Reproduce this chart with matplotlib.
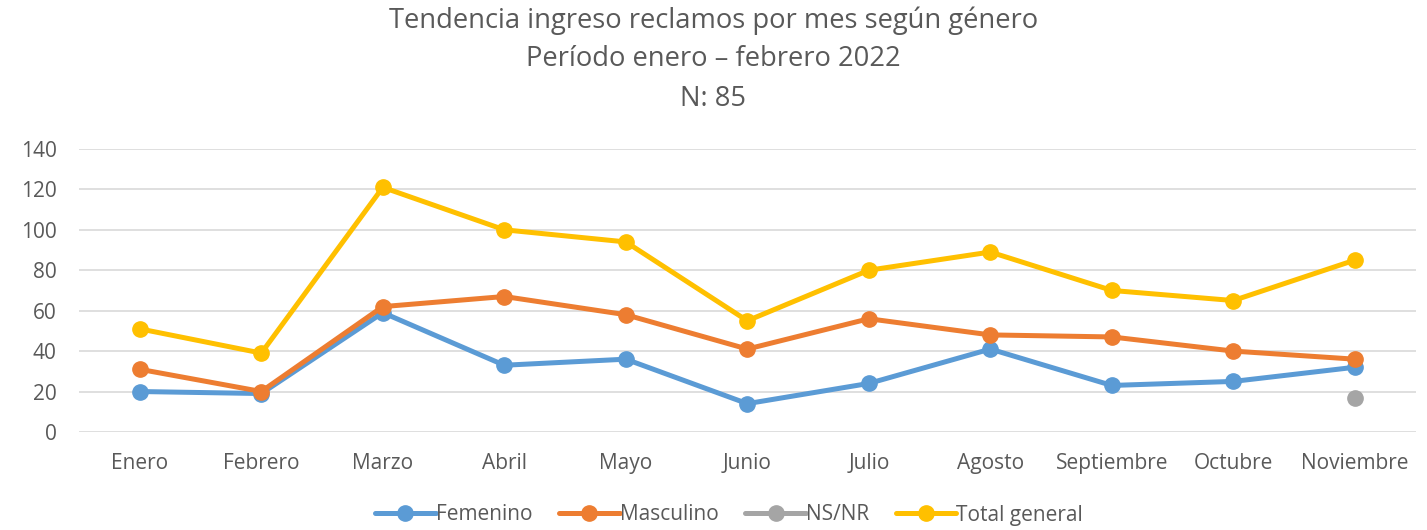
import numpy as np
import matplotlib
matplotlib.use("Agg")
import matplotlib.pyplot as plt

months = ["Enero", "Febrero", "Marzo", "Abril", "Mayo", "Junio", "Julio",
          "Agosto", "Septiembre", "Octubre", "Noviembre"]
femenino = [20, 19, 59, 33, 36, 14, 24, 41, 23, 25, 32]
masculino = [31, 20, 62, 67, 58, 41, 56, 48, 47, 40, 36]
nsnr = [np.nan, np.nan, np.nan, np.nan, np.nan, np.nan, np.nan, np.nan, np.nan, np.nan, 17]
total = [51, 39, 121, 100, 94, 55, 80, 89, 70, 65, 85]
yticks = [0, 20, 40, 60, 80, 100, 120, 140]

series = [("Femenino", femenino, "#5B9BD5"),
          ("Masculino", masculino, "#ED7D31"),
          ("NS/NR", nsnr, "#A5A5A5"),
          ("Total general", total, "#FFC000")]

plt.rcParams['font.family'] = ['Open Sans', 'DejaVu Sans']
txt = "#595959"

fig = plt.figure(figsize=(14.27, 5.30), dpi=100)
ax = fig.add_axes([0.0554, 0.185, 0.9366, 0.534])

x = np.arange(len(months))
for name, vals, col in series:
    ax.plot(x, vals, color=col, lw=3.6, marker="o", ms=11, label=name,
            solid_capstyle="round", solid_joinstyle="round")

ax.set_xlim(-0.5, len(months) - 0.5)
ax.set_ylim(0, 140)
ax.set_yticks(yticks)
ax.set_xticks(x)
ax.set_xticklabels(months)
ax.grid(axis="y", color="#D9D9D9", lw=1.2)
ax.set_axisbelow(True)
for s in ax.spines.values():
    s.set_visible(False)
ax.tick_params(axis="both", length=0, labelsize=15, colors=txt)
ax.tick_params(axis="x", pad=15)
ax.tick_params(axis="y", pad=16)

fig.text(0.5, 1 - 21 / 530, "Tendencia ingreso reclamos por mes según género",
         ha="center", va="center", fontsize=19.7, color=txt)
fig.text(0.5, 1 - 59 / 530, "Período enero – febrero 2022",
         ha="center", va="center", fontsize=19.7, color=txt)
fig.text(0.5, 1 - 99 / 530, "N: 85",
         ha="center", va="center", fontsize=19.7, color=txt)

leg = fig.legend(loc="center", bbox_to_anchor=(0.511, 1 - 515 / 530), ncol=4,
                 frameon=False, fontsize=15, handlelength=2.9, handletextpad=0.0,
                 columnspacing=1.3)
for t in leg.get_texts():
    t.set_color(txt)

fig.savefig("out.png", dpi=100)
